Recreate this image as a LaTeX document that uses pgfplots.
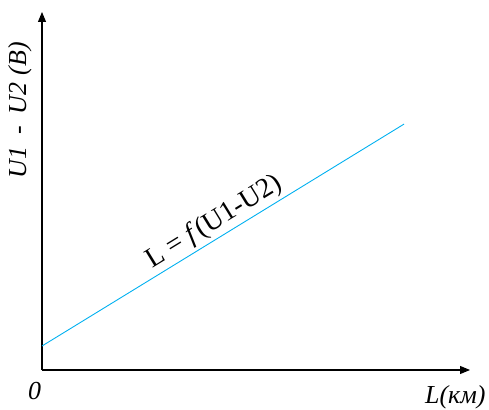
\documentclass[border=0pt]{standalone}
\usepackage{fontspec}
\setmainfont{Liberation Serif}
\usepackage{pgfplots}
\pgfplotsset{compat=1.18}
\usetikzlibrary{arrows.meta}
\definecolor{lineblue}{RGB}{0,176,240}
\begin{document}
\begin{tikzpicture}
\begin{axis}[
    scale only axis,
    width=428bp, height=358bp,
    xmin=0, xmax=10, ymin=0, ymax=10,
    axis lines=left,
    axis line style={line width=1.1pt, -{Triangle[length=10bp,width=8bp]}},
    xtick=\empty, ytick=\empty,
    clip=false
]
\addplot[lineblue, line width=0.9pt] coordinates {(0,0.67) (8.46,6.87)};
\end{axis}
% labels (axis origin at 0,0)
\node[anchor=base, font=\fontsize{26}{30}\selectfont\itshape] at (-7.5bp,-29bp) {0};
\node[anchor=base east, font=\fontsize{26}{30}\selectfont\itshape] at (447bp,-33bp) {L(км)};
\node[rotate=90, font=\fontsize{26}{30}\selectfont\itshape] at (-22bp,260bp)
    {U1\hspace{0.45em}-\hspace{0.45em}U2\hspace{0.3em}(B)};
\node[rotate=31.5, font=\fontsize{28}{32}\selectfont] at (172bp,148bp)
    {L = \textit{f}(U1-U2)};
\pgfresetboundingbox
\path[use as bounding box] (-42bp,-40bp) rectangle (447bp,370bp);
\end{tikzpicture}
\end{document}
